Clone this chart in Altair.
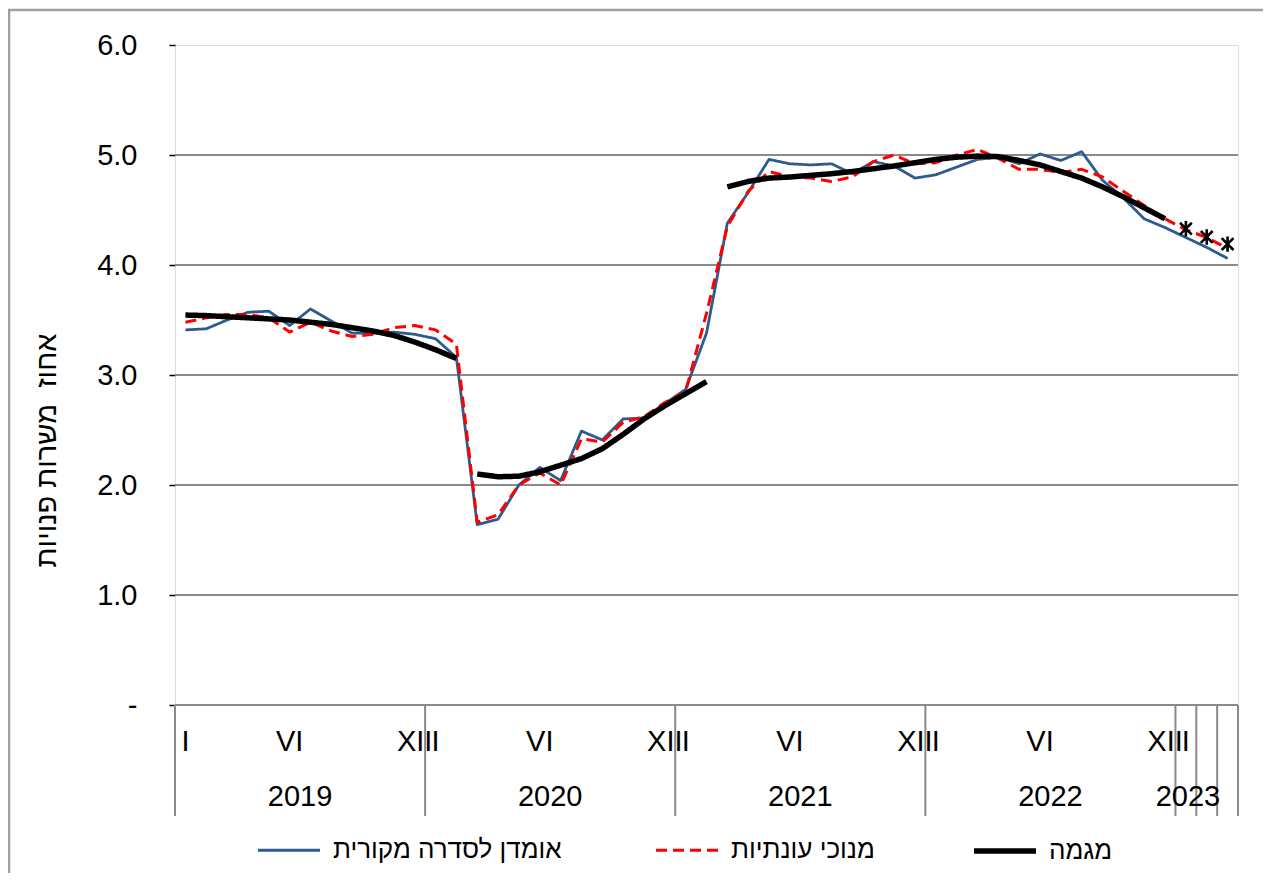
import altair as alt
import pandas as pd

FONT = "Liberation Sans, Arial, sans-serif"

S_ORIG = "אומדן לסדרה מקורית"
S_SA = "מנוכי עונתיות"
S_TR = "מגמה"
Y_TITLE = "אחוז\u00a0 משרות פנויות"

# Monthly values, Jan 2019 .. Mar 2023 (51 months)
original = [3.41, 3.42, 3.50, 3.57, 3.58, 3.45, 3.60, 3.49, 3.38, 3.38, 3.39, 3.37,
            3.33, 3.16, 1.64, 1.69, 2.00, 2.16, 2.04, 2.49, 2.41, 2.60, 2.61, 2.74,
            2.87, 3.38, 4.38, 4.66, 4.96, 4.92, 4.91, 4.92, 4.83, 4.94, 4.90, 4.79,
            4.82, 4.89, 4.96, 4.98, 4.92, 5.01, 4.95, 5.03, 4.77, 4.61, 4.42, 4.34,
            4.25, 4.16, 4.06]
seas_adj = [3.48, 3.52, 3.55, 3.55, 3.52, 3.39, 3.48, 3.40, 3.35, 3.37, 3.43, 3.45,
            3.41, 3.28, 1.66, 1.73, 2.00, 2.11, 2.00, 2.42, 2.39, 2.57, 2.62, 2.75,
            2.85, 3.56, 4.35, 4.67, 4.85, 4.80, 4.79, 4.76, 4.80, 4.94, 5.00, 4.92,
            4.93, 5.00, 5.05, 4.97, 4.87, 4.87, 4.84, 4.87, 4.80, 4.67, 4.54, 4.42,
            4.32, 4.25, 4.15]
trend = [3.545, 3.54, 3.53, 3.52, 3.51, 3.50, 3.48, 3.46, 3.43, 3.40, 3.36, 3.30,
         3.23, 3.15,
         2.10, 2.075, 2.08, 2.12, 2.18, 2.24, 2.33, 2.46, 2.60, 2.72, 2.83, 2.94,
         4.71, 4.76, 4.79, 4.80, 4.815, 4.83, 4.85, 4.875, 4.90, 4.93, 4.96, 4.98,
         4.99, 4.985, 4.95, 4.91, 4.85, 4.79, 4.71, 4.62, 4.52, 4.42]
trend_segment_starts = [0, 14, 26]
estimate_months = [48, 49, 50]
estimate_values = [4.33, 4.255, 4.19]

month_label_idx = [0, 5, 11, 12, 17, 23, 24, 29, 35, 36, 41, 47, 48]
month_labels = ["I", "VI", "XII", "I", "VI", "XII", "I", "VI", "XII", "I", "VI", "XII", "I"]
years = ["2019", "2020", "2021", "2022", "2023"]
year_label_pos = [6, 18, 30, 42, 48.6]
separators = [0, 12, 24, 36, 48, 49, 50, 51]
grid_values = [0, 1, 2, 3, 4, 5]
y_ticks = [0, 1, 2, 3, 4, 5, 6]

N_MONTHS = 51
W, H = 1063, 660

rows = []
for i, v in enumerate(original):
    rows.append({"x": i + 0.5, "v": v, "series": S_ORIG, "seg": 0})
for i, v in enumerate(seas_adj):
    rows.append({"x": i + 0.5, "v": v, "series": S_SA, "seg": 0})
for i, v in enumerate(trend):
    seg = sum(1 for s in trend_segment_starts if i >= s)
    rows.append({"x": i + 0.5, "v": v, "series": S_TR, "seg": seg})
df = pd.DataFrame(rows)

x_scale = alt.Scale(domain=[0, N_MONTHS], nice=False, zero=False)
y_scale = alt.Scale(domain=[0, 6], nice=False, zero=True)

X = alt.X("x:Q", scale=x_scale, axis=None)
Y = alt.Y("v:Q", scale=y_scale,
          axis=alt.Axis(values=y_ticks,
                        labelExpr="datum.value == 0 ? '-' : format(datum.value, '.1f')",
                        title=Y_TITLE, grid=False, domain=False,
                        tickSize=6, tickColor="black", tickWidth=1.5,
                        labelFontSize=29, labelFont=FONT, labelColor="black",
                        labelPadding=32,
                        titleFontSize=29, titleFont=FONT, titleColor="black",
                        titleFontWeight="normal", titleX=-129, titleY=405,
                        titleBaseline="middle", titleAlign="center"))

SYM = 62
legend = alt.Legend(orient="none", legendX=80, legendY=803 - SYM / 2,
                    direction="horizontal",
                    columns=3, columnPadding=88, symbolType="stroke", symbolSize=SYM * SYM,
                    labelFontSize=26, labelFont=FONT, labelColor="black", title=None,
                    labelOffset=10, padding=0, labelLimit=500)
domain = [S_ORIG, S_SA, S_TR]
color = alt.Color("series:N", scale=alt.Scale(domain=domain, range=["#2d5b8e", "#ff0000", "#000000"]), legend=legend)
dash = alt.StrokeDash("series:N", scale=alt.Scale(domain=domain, range=[[1, 0], [11, 6], [1, 0]]), legend=legend)
width = alt.StrokeWidth("series:N", scale=alt.Scale(type="ordinal", domain=domain, range=[2.8, 3, 5.5]), legend=legend)

grid_df = pd.DataFrame({"v": grid_values})
grid = alt.Chart(grid_df).mark_rule(color="#8a8a8a", strokeWidth=2).encode(y=Y)

sep_df = pd.DataFrame({"x": separators})
seps = alt.Chart(sep_df).mark_rule(color="#8a8a8a", strokeWidth=2).encode(
    x=X, y=alt.value(H), y2=alt.value(H + 111))

ml_df = pd.DataFrame({"x": [m + 0.5 for m in month_label_idx], "t": month_labels})
mlabels = alt.Chart(ml_df).mark_text(fontSize=29, font=FONT, color="black",
                                     baseline="middle", align="center").encode(
    x=X, y=alt.value(H + 37), text="t:N")

yl_df = pd.DataFrame({"x": year_label_pos, "t": years})
ylabels = alt.Chart(yl_df).mark_text(fontSize=29, font=FONT, color="black",
                                     baseline="middle", align="center").encode(
    x=X, y=alt.value(H + 92), text="t:N")

def series_layer(name):
    return alt.Chart(df[df["series"] == name]).mark_line(strokeCap="butt", strokeJoin="round").encode(
        x=X, y=Y, color=color, strokeDash=dash, strokeWidth=width, detail="seg:N")

est_df = pd.DataFrame({"x": [m + 0.5 for m in estimate_months], "v": estimate_values})
stars = alt.Chart(est_df).mark_point(
    shape="M-1,-1L1,1M-1,1L1,-1M0,-1.3L0,1.3", filled=False, stroke="black",
    strokeWidth=2.6, size=140, opacity=1).encode(x=X, y=Y)

frame = alt.Chart(pd.DataFrame({"a": [0]})).mark_rect(
    fillOpacity=0, stroke="#a0a0a0", strokeWidth=2.5).encode(
    x=alt.value(-166), y=alt.value(-35), x2=alt.value(W + 200), y2=alt.value(H + 300))

chart = alt.layer(
    grid, seps, mlabels, ylabels,
    series_layer(S_ORIG), series_layer(S_SA), series_layer(S_TR),
    stars, frame
).properties(
    width=W, height=H,
    autosize=alt.AutoSizeParams(type="none"),
    padding={"left": 167, "top": 37, "right": 25, "bottom": 168},
).configure_view(stroke="black", strokeWidth=2).configure(background="white")

chart.save("out.html", embed_options={"renderer": "svg", "actions": False})
